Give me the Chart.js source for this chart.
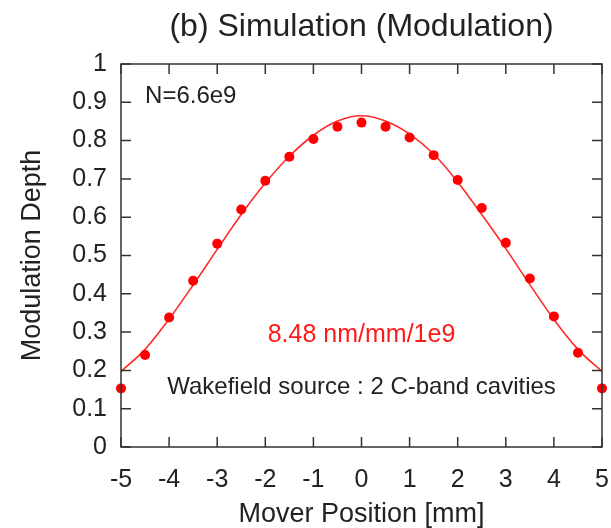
<!DOCTYPE html>
<html>
<head>
<meta charset="utf-8">
<script src="https://cdn.jsdelivr.net/npm/chart.js@4/dist/chart.umd.min.js"></script>
<style>
  body { margin: 0; background: #fff; }
  #chart { display: block; }
</style>
</head>
<body>
<canvas id="chart" width="611" height="528"></canvas>
<script>
// mover position [mm]
var positions = [-5, -4.5, -4, -3.5, -3, -2.5, -2, -1.5, -1, -0.5, 0, 0.5, 1, 1.5, 2, 2.5, 3, 3.5, 4, 4.5, 5];
// simulated modulation depth (dots)
var depth = [0.153, 0.240, 0.338, 0.434, 0.531, 0.620, 0.695, 0.758, 0.804, 0.836, 0.847,
             0.836, 0.808, 0.762, 0.697, 0.624, 0.533, 0.440, 0.341, 0.246, 0.153];
// fitted curve (red line), read at the same positions
var fitDepth = [0.197, 0.255, 0.334, 0.423, 0.516, 0.607, 0.689, 0.759, 0.814, 0.851, 0.865,
                0.851, 0.817, 0.765, 0.692, 0.607, 0.518, 0.424, 0.333, 0.255, 0.197];
var xTickLabels = ["-5", "-4", "-3", "-2", "-1", "0", "1", "2", "3", "4", "5"];
var yTickLabels = ["0", "0.1", "0.2", "0.3", "0.4", "0.5", "0.6", "0.7", "0.8", "0.9", "1"];

var FONT = "'Liberation Sans', Arial, Helvetica, sans-serif";
Chart.defaults.font.family = FONT;
Chart.defaults.color = "#222";

function toXY(xs, ys) {
  var out = [];
  for (var i = 0; i < xs.length; i++) out.push({ x: xs[i], y: ys[i] });
  return out;
}

// frame with inward ticks on all four sides, title over the plot, text notes
var framePlugin = {
  id: "frame",
  afterDatasetsDraw: function (chart) {
    var ctx = chart.ctx;
    var a = chart.chartArea;
    var xs = chart.scales.x, ys = chart.scales.y;
    var len = 10;
    ctx.save();
    ctx.strokeStyle = "#333";
    ctx.lineWidth = 1.5;
    ctx.strokeRect(a.left, a.top, a.right - a.left, a.bottom - a.top);
    ctx.beginPath();
    xs.ticks.forEach(function (t) {
      var px = xs.getPixelForValue(t.value);
      ctx.moveTo(px, a.bottom); ctx.lineTo(px, a.bottom - len);
      ctx.moveTo(px, a.top); ctx.lineTo(px, a.top + len);
    });
    ys.ticks.forEach(function (t) {
      var py = ys.getPixelForValue(t.value);
      ctx.moveTo(a.left, py); ctx.lineTo(a.left + len, py);
      ctx.moveTo(a.right, py); ctx.lineTo(a.right - len, py);
    });
    ctx.stroke();

    var cx = (a.left + a.right) / 2;
    ctx.textBaseline = "middle";
    ctx.textAlign = "center";
    ctx.fillStyle = "#222";
    ctx.font = "32px " + FONT;
    ctx.fillText("(b) Simulation (Modulation)", cx, 27);

    ctx.font = "24px " + FONT;
    ctx.textAlign = "left";
    ctx.fillText("N=6.6e9", xs.getPixelForValue(-4.5), ys.getPixelForValue(0.915));
    ctx.textAlign = "center";
    ctx.fillText("Wakefield source : 2 C-band cavities", cx, ys.getPixelForValue(0.155));
    ctx.fillStyle = "#ff1a1a";
    ctx.font = "25px " + FONT;
    ctx.fillText("8.48 nm/mm/1e9", cx, ys.getPixelForValue(0.292));
    ctx.restore();
  }
};

var ctx = document.getElementById("chart").getContext("2d");
var chart = new Chart(ctx, {
  type: "scatter",
  data: {
    datasets: [
      {
        label: "Simulation",
        data: toXY(positions, depth),
        backgroundColor: "#ff0000",
        borderColor: "#ff0000",
        pointRadius: 5,
        pointBorderWidth: 0,
        clip: false,
        order: 0
      },
      {
        type: "line",
        label: "Fit",
        data: toXY(positions, fitDepth),
        borderColor: "#ff2a2a",
        borderWidth: 1.6,
        pointRadius: 0,
        fill: false,
        cubicInterpolationMode: "monotone",
        order: 1
      }
    ]
  },
  plugins: [framePlugin],
  options: {
    responsive: false,
    devicePixelRatio: 1,
    animation: false,
    layout: { padding: { left: 0, right: 9, top: 64, bottom: 0 } },
    plugins: {
      legend: { display: false },
      tooltip: { enabled: false },
      title: { display: false }
    },
    scales: {
      x: {
        type: "linear",
        min: -5,
        max: 5,
        grid: { display: false, drawTicks: false },
        border: { display: false },
        afterFit: function (s) {
          s.height = 81;
          s.paddingLeft = 0;
          s.paddingRight = 0;
        },
        ticks: {
          stepSize: 1,
          padding: 18,
          color: "#222",
          font: { size: 25 },
          maxRotation: 0,
          callback: function (v, i) { return xTickLabels[i]; }
        },
        title: {
          display: true,
          text: "Mover Position [mm]",
          color: "#222",
          font: { size: 27 },
          padding: { top: 0, bottom: -3 }
        }
      },
      y: {
        type: "linear",
        min: 0,
        max: 1,
        grid: { display: false, drawTicks: false },
        border: { display: false },
        afterFit: function (s) {
          s.width = 121;
          s.paddingTop = 0;
          s.paddingBottom = 0;
        },
        ticks: {
          stepSize: 0.1,
          padding: 14,
          color: "#222",
          font: { size: 25 },
          callback: function (v, i) { return yTickLabels[i]; }
        },
        title: {
          display: true,
          text: "Modulation Depth",
          color: "#222",
          font: { size: 27 },
          padding: { top: 16, bottom: 0 }
        }
      }
    }
  }
});
</script>
</body>
</html>
